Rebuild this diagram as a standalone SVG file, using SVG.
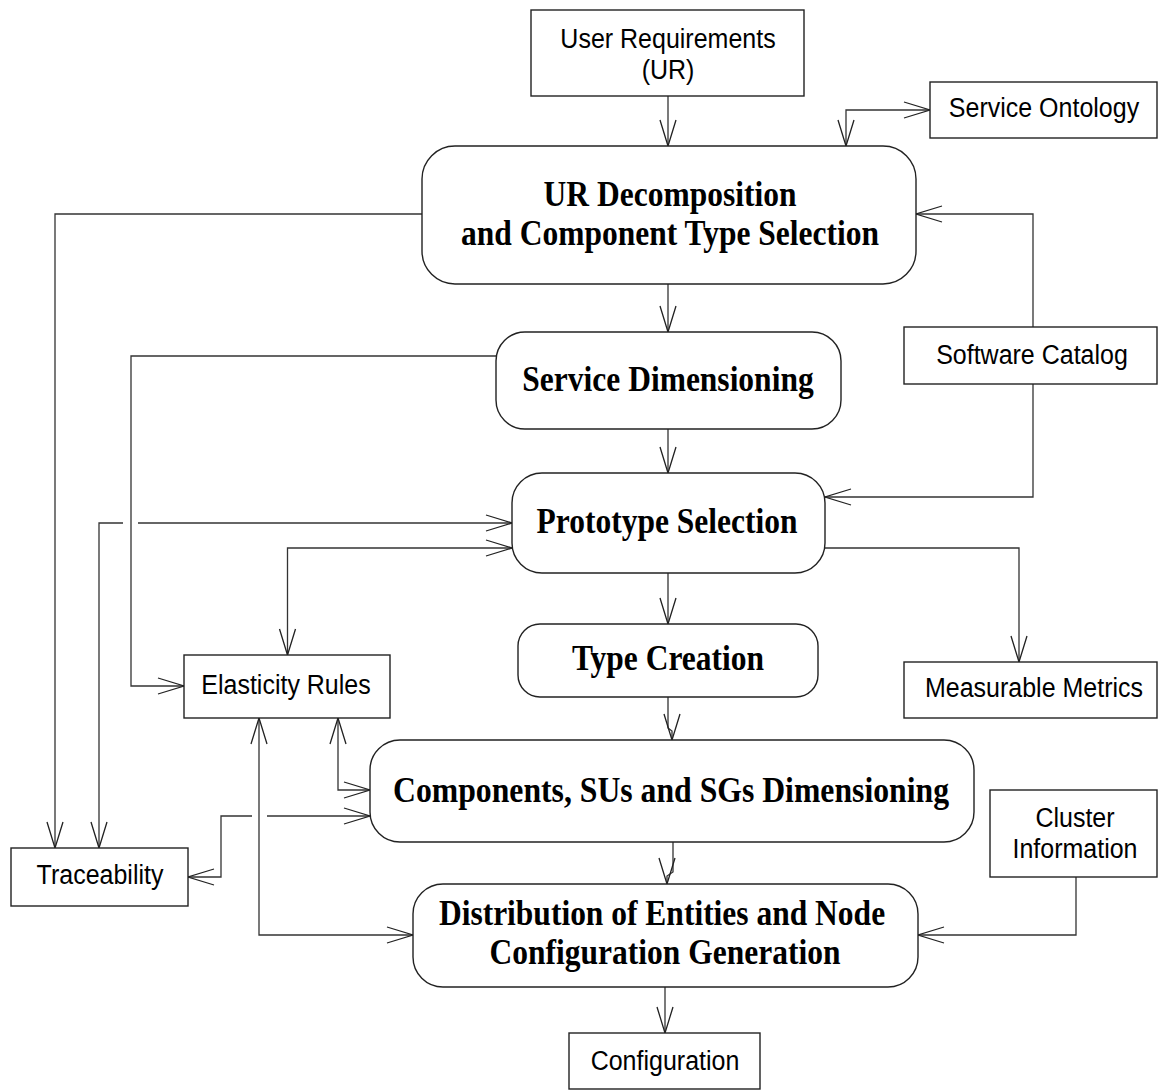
<svg xmlns="http://www.w3.org/2000/svg" width="1158" height="1091" viewBox="0 0 1158 1091">
<style>
.box{fill:#fff;stroke:#222;stroke-width:1.4}
.rbox{fill:#fff;stroke:#222;stroke-width:1.4}
.lbl{font-family:"Liberation Sans",Arial,sans-serif;font-size:25px;fill:#000;text-anchor:middle}
.big{font-family:"Liberation Serif","Times New Roman",serif;font-weight:bold;font-size:31.5px;fill:#000;text-anchor:middle}
.c{fill:none;stroke:#333;stroke-width:1.3}
.a{marker-end:url(#ah)}
.b{marker-start:url(#ah);marker-end:url(#ah)}
</style>
<defs>
<marker id="ah" markerUnits="userSpaceOnUse" markerWidth="30" markerHeight="20" refX="27" refY="10" orient="auto-start-reverse" viewBox="0 0 30 20">
<path d="M1,2 L27,10 L1,18" fill="none" stroke="#222" stroke-width="1.3"/>
</marker>
</defs>
<rect width="1158" height="1091" fill="#fff"/>
<g id="connectors">
<path class="c a" d="M668 96 V146"/>
<path class="c b" d="M846 146 V110 H930"/>
<path class="c a" d="M668 284 V332"/>
<path class="c a" d="M668 429 V473"/>
<path class="c a" d="M668 573 V624"/>
<path class="c a" d="M668 697 V728 L672 731 V740"/>
<path class="c a" d="M673 842 V872 L667 876 V884"/>
<path class="c a" d="M665 987 V1033"/>
<path class="c a" d="M1033 327 V214 H916"/>
<path class="c a" d="M1033 384 V497 H825"/>
<path class="c a" d="M825 548 H1019 V662"/>
<path class="c a" d="M1076 877 V935 H918"/>
<path class="c a" d="M422 214 H55 V848"/>
<path class="c a" d="M496 356 H131 V686 H184"/>
<path class="c a" d="M138 523 H512"/>
<path class="c a" d="M123 523 H99 V848"/>
<path class="c b" d="M512 548 H287.5 V655"/>
<path class="c b" d="M338 718 V790 H370"/>
<path class="c b" d="M259 718 V935 H413"/>
<path class="c" d="M370 816 H267" style="marker-start:url(#ah)"/>
<path class="c a" d="M252 816 H221 V877 H188"/>
</g>
<g id="ur"><rect class="box" x="531" y="10" width="273" height="86"/><text class="lbl" transform="translate(668,48) scale(1,1.12)">User Requirements</text><text class="lbl" transform="translate(668,79) scale(1,1.12)">(UR)</text></g>
<g id="so"><rect class="box" x="930" y="82" width="227" height="56"/><text class="lbl" transform="translate(1044,117) scale(1,1.12)">Service Ontology</text></g>
<g id="decomp"><rect class="rbox" x="422" y="146" width="494" height="138" rx="33"/><text class="big" transform="translate(670,206) scale(1,1.15)">UR Decomposition</text><text class="big" transform="translate(670,245) scale(1,1.15)">and Component Type Selection</text></g>
<g id="sc"><rect class="box" x="904" y="327" width="253" height="57"/><text class="lbl" transform="translate(1032,364) scale(1,1.12)">Software Catalog</text></g>
<g id="sd"><rect class="rbox" x="496" y="332" width="345" height="97" rx="29"/><text class="big" transform="translate(668,391) scale(1,1.15)">Service Dimensioning</text></g>
<g id="ps"><rect class="rbox" x="512" y="473" width="313" height="100" rx="30"/><text class="big" transform="translate(667,533) scale(1,1.15)">Prototype Selection</text></g>
<g id="tc"><rect class="rbox" x="518" y="624" width="300" height="73" rx="22"/><text class="big" transform="translate(668,670) scale(1,1.15)">Type Creation</text></g>
<g id="mm"><rect class="box" x="904" y="662" width="253" height="56"/><text class="lbl" transform="translate(1034,697) scale(1,1.12)">Measurable Metrics</text></g>
<g id="er"><rect class="box" x="184" y="655" width="206" height="63"/><text class="lbl" transform="translate(286,694) scale(1,1.12)">Elasticity Rules</text></g>
<g id="csd"><rect class="rbox" x="370" y="740" width="604" height="102" rx="30"/><text class="big" transform="translate(671,802) scale(1,1.15)" textLength="556" lengthAdjust="spacingAndGlyphs">Components, SUs and SGs  Dimensioning</text></g>
<g id="ci"><rect class="box" x="990" y="790" width="167" height="87"/><text class="lbl" transform="translate(1075,827) scale(1,1.12)">Cluster</text><text class="lbl" transform="translate(1075,858) scale(1,1.12)">Information</text></g>
<g id="tr"><rect class="box" x="11" y="848" width="177" height="58"/><text class="lbl" transform="translate(100,884) scale(1,1.12)">Traceability</text></g>
<g id="dist"><rect class="rbox" x="413" y="884" width="505" height="103" rx="30"/><text class="big" transform="translate(662,925) scale(1,1.15)">Distribution of Entities and Node</text><text class="big" transform="translate(665,964) scale(1,1.15)">Configuration Generation</text></g>
<g id="conf"><rect class="box" x="569" y="1033" width="191" height="56"/><text class="lbl" transform="translate(665,1070) scale(1,1.12)">Configuration</text></g>
</svg>
